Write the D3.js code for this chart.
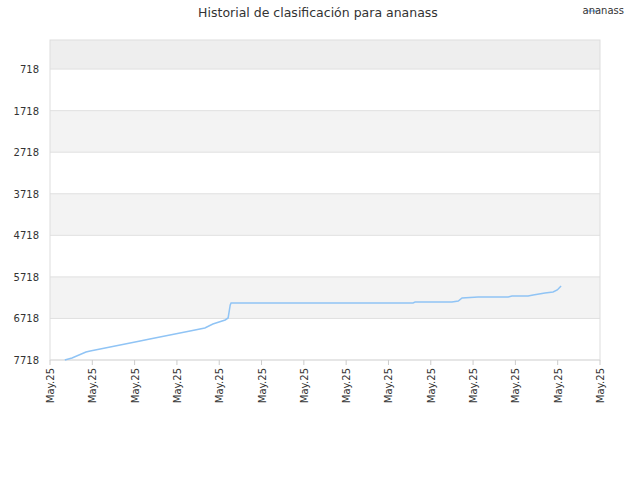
<!DOCTYPE html><html><head><meta charset="utf-8"><script src="https://cdn.jsdelivr.net/npm/d3@7"></script>
<style>body{margin:0;background:#fff}text{font-family:"DejaVu Sans",sans-serif}</style></head><body><svg id="c" width="640" height="480"></svg>
<script>
const days=[0.35,0.52,0.85,0.95,2.13,2.36,3.31,3.66,3.85,4.14,4.21,4.26,4.28,8.58,8.63,9.5,9.65,9.74,10.12,10.83,10.92,11.3,11.42,11.7,11.89,11.99,12.08];
const ranks=[7718,7669,7524,7500,7260,7212,7019,6947,6851,6755,6707,6394,6346,6346,6322,6322,6298,6225,6201,6201,6177,6177,6153,6105,6081,6033,5937];
const yTicks=[718,1718,2718,3718,4718,5718,6718,7718];
const xTicks=d3.range(0,14);
const xLabel="May.25";
const svg=d3.select("#c");
const L=50,R=600,T=40,B=360;
const x=d3.scaleLinear().domain([0,13]).range([L,R]);
const y=d3.scaleLinear().domain([18,7718]).range([T,B]);
const bands=[18,...yTicks];
for(let i=0;i<bands.length-1;i++){
 const c=i===0?"#eeeeee":(i%2===0?"#f3f3f3":"#ffffff");
 svg.append("rect").attr("x",L).attr("y",y(bands[i])).attr("width",R-L).attr("height",y(bands[i+1])-y(bands[i])).attr("fill",c);
}
svg.selectAll(".g").data(yTicks).enter().append("line").attr("x1",L).attr("x2",R).attr("y1",d=>y(d)).attr("y2",d=>y(d)).attr("stroke","#e0e0e0");
svg.append("rect").attr("x",L).attr("y",T).attr("width",R-L).attr("height",B-T).attr("fill","none").attr("stroke","#dddddd");
svg.selectAll(".yl").data(yTicks).enter().append("text").attr("x",L-11).attr("y",d=>y(d)+4).attr("text-anchor","end").attr("font-size",10).attr("fill","#333").text(d=>d);
svg.selectAll(".xt").data(xTicks).enter().append("line").attr("x1",d=>x(d)).attr("x2",d=>x(d)).attr("y1",B).attr("y2",B+5).attr("stroke","#ccc");
svg.selectAll(".xl").data(xTicks).enter().append("text").attr("transform",d=>`translate(${x(d)+4},${B+8}) rotate(-90)`).attr("text-anchor","end").attr("font-size",10).attr("fill","#333").text(xLabel);
const pts=days.map((d,i)=>[d,ranks[i]]);
svg.append("path").datum(pts).attr("d",d3.line().x(d=>x(d[0])).y(d=>y(d[1]))).attr("fill","none").attr("stroke","#90c4f5").attr("stroke-width",1.5);
svg.append("text").attr("x",318).attr("y",17).attr("text-anchor","middle").attr("font-size",12.5).attr("fill","#333").text("Historial de clasificación para ananass");
svg.append("line").attr("x1",587).attr("x2",598).attr("y1",11).attr("y2",11).attr("stroke","#90c4f5").attr("stroke-width",1.5);
svg.append("text").attr("x",624).attr("y",14).attr("text-anchor","end").attr("font-size",10).attr("fill","#333").text("ananass");
</script></body></html>
